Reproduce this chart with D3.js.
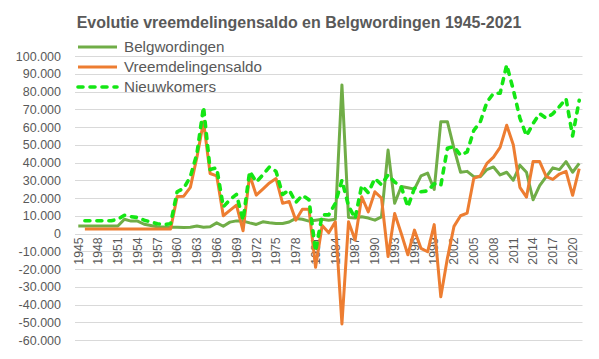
<!DOCTYPE html>
<html>
<head>
<meta charset="utf-8">
<script src="https://cdnjs.cloudflare.com/ajax/libs/d3/7.8.5/d3.min.js"></script>
<style>
  body { margin: 0; background: #fff; }
  svg { display: block; font-family: "Liberation Sans", Arial, sans-serif; }
  .grid line { stroke: #d9d9d9; stroke-width: 1; }
  .tick text { fill: #595959; }
</style>
</head>
<body>
<svg width="599" height="359"></svg>
<script>
"use strict";

// categories
var years = d3.range(1945, 2022);

var belgwordingen = [
  4200, 4200, 4200, 4200, 4200, 4200, 4200, 8000, 7000, 7000,      // 1945-54
  5200, 4500, 3800, 3700, 3500, 3500, 3400, 3500, 4200, 3500,      // 1955-64
  3800, 6000, 4100, 6400, 7100, 7000, 6000, 5100, 6600, 6000,      // 1965-74
  5600, 5600, 6500, 8500, 8000, 7000, 7500, 8000, 7500, 8000,      // 1975-84
  83700, 9000, 8700, 9400, 8700, 7500, 9400, 47000, 17000, 26500,  // 1985-94
  25800, 25000, 32500, 34000, 24800, 62900, 63000, 48000, 34500, 35000, // 1995-2004
  32000, 32000, 36000, 37500, 33000, 34500, 30000, 38500, 34500, 19000, // 2005-14
  27000, 32000, 37000, 36000, 40500, 34500, 39500                  // 2015-21
];

var vreemdelingensaldo = [
  null, 2500, 2500, 2500, 2500, 2500, 2500, 2500, 2500, 2500,
  2500, 2500, 2500, 2500, 2500, 20800, 21000, 26000, 43000, 63000,
  33800, 32500, 10000, 13000, 16000, 1500, 33000, 21600, 25000, 28500,
  31000, 17000, 18000, 7500, 13700, 13700, -19000, 4500, 400, 6600,
  -51000, 6600, -3700, 20700, 12200, 23500, 20000, -13000, 11300, 0,
  -12000, 1900, -8400, -10300, 5000, -35700, -14000, 4000, 10000, 11500,
  31000, 32500, 39500, 43000, 48500, 61000, 50000, 26000, 20500, 40500,
  40500, 32000, 30500, 33500, 35000, 21500, 36500
];

var nieuwkomers = [
  null, 7200, 7200, 7200, 7200, 7200, 8000, 10300, 9500, 9000,
  7500, 6500, 5500, 5000, 5500, 23500, 25500, 32000, 45000, 71400,
  36000, 37000, 15000, 19000, 22000, 7500, 35000, 29000, 33000, 37500,
  35000, 22000, 24500, 17500, 21500, 19000, -10000, 10500, 10500, 17000,
  30000, 15500, 8500, 27000, 23000, 31000, 27500, 33000, 29000, 26300,
  15000, 25500, 23500, 24000, 28000, 27000, 48000, 49000, 44000, 46000,
  58000, 63000, 74000, 79000, 79000, 95000, 81000, 65000, 55000, 62000,
  67500, 65000, 67500, 71500, 76000, 55000, 75000
];

var yTicks = d3.range(-60000, 100001, 10000);
var xLabels = years.filter(function(d, i) { return i % 3 == 0; });

var series = [
  {name: "Belgwordingen", values: belgwordingen, colour: "#70ad47", dash: null},
  {name: "Vreemdelingensaldo", values: vreemdelingensaldo, colour: "#ed7d31", dash: null},
  {name: "Nieuwkomers", values: nieuwkomers, colour: "#14e614", dash: "5,7"}
];

var svg = d3.select("svg");
var plotLeft = 75, plotRight = 582.5, plotTop = 56, plotBottom = 340;

var x = d3.scaleBand().domain(years).range([plotLeft, plotRight]);
var y = d3.scaleLinear().domain([-60000, 100000]).range([plotBottom, plotTop]);
var cx = function(yr) { return x(yr) + x.bandwidth() / 2; };

var fmt = d3.formatLocale({decimal: ",", thousands: ".", grouping: [3], currency: ["", ""], minus: "-"}).format(",");

svg.append("rect").attr("width", 599).attr("height", 359).attr("fill", "#fff");

// gridlines
svg.append("g").attr("class", "grid")
  .selectAll("line")
  .data(yTicks)
  .enter().append("line")
    .attr("x1", plotLeft).attr("x2", plotRight)
    .attr("y1", function(d) { return Math.round(y(d)) + 0.5; })
    .attr("y2", function(d) { return Math.round(y(d)) + 0.5; });

// y axis labels
var yAxis = svg.append("g")
  .attr("transform", "translate(61,0)")
  .call(d3.axisLeft(y).tickValues(yTicks).tickFormat(fmt).tickSize(0).tickPadding(0));
yAxis.select(".domain").remove();
yAxis.attr("font-family", null).attr("font-size", null);
yAxis.selectAll("text").style("font-size", "12.5px");

// x axis labels, rotated, sitting under the zero line
var xAxis = svg.append("g")
  .attr("transform", "translate(0," + y(0) + ")")
  .call(d3.axisBottom(x).tickValues(xLabels).tickSize(0));
xAxis.select(".domain").remove();
xAxis.attr("font-family", null).attr("font-size", null);
xAxis.selectAll("text")
  .style("font-size", "12.2px")
  .style("text-anchor", "end")
  .attr("x", -4)
  .attr("y", 0)
  .attr("dy", "0.35em")
  .attr("transform", "rotate(-90)");

// lines
var line = d3.line()
  .defined(function(d) { return d != null; })
  .x(function(d, i) { return cx(years[i]); })
  .y(function(d) { return y(d); });

svg.append("g").selectAll("path")
  .data(series)
  .enter().append("path")
    .attr("fill", "none")
    .attr("stroke", function(d) { return d.colour; })
    .attr("stroke-width", function(d) { return d.dash ? 3.6 : 3; })
    .attr("stroke-dasharray", function(d) { return d.dash; })
    .attr("stroke-linecap", function(d) { return d.dash ? "round" : "butt"; })
    .attr("stroke-linejoin", "round")
    .attr("d", function(d) { return line(d.values); });

// title
var title = svg.append("text")
  .attr("x", 299).attr("y", 28)
  .attr("text-anchor", "middle")
  .attr("fill", "#595959")
  .style("font-weight", "bold")
  .style("font-size", "14px")
  .text("Evolutie vreemdelingensaldo en Belgwordingen 1945-2021");
var tw = title.node().getComputedTextLength();
title.style("font-size", (14 * 445 / tw) + "px");

// legend
var legend = svg.append("g");
var entry = legend.selectAll("g")
  .data(series)
  .enter().append("g")
    .attr("transform", function(d, i) { return "translate(0," + (47 + i * 20) + ")"; });
entry.append("line")
  .attr("x1", 78).attr("x2", 117)
  .attr("stroke", function(d) { return d.colour; })
  .attr("stroke-width", function(d) { return d.dash ? 3.6 : 3; })
  .attr("stroke-dasharray", function(d) { return d.dash; })
  .attr("stroke-linecap", function(d) { return d.dash ? "round" : "butt"; });
entry.append("text")
  .attr("x", 124).attr("dy", "0.35em")
  .attr("fill", "#595959")
  .style("font-size", "14.5px")
  .text(function(d) { return d.name; });
var lw = entry.filter(function(d, i) { return i == 1; }).select("text").node().getComputedTextLength();
entry.selectAll("text").style("font-size", (14.5 * 138 / lw) + "px");
</script>
</body>
</html>
